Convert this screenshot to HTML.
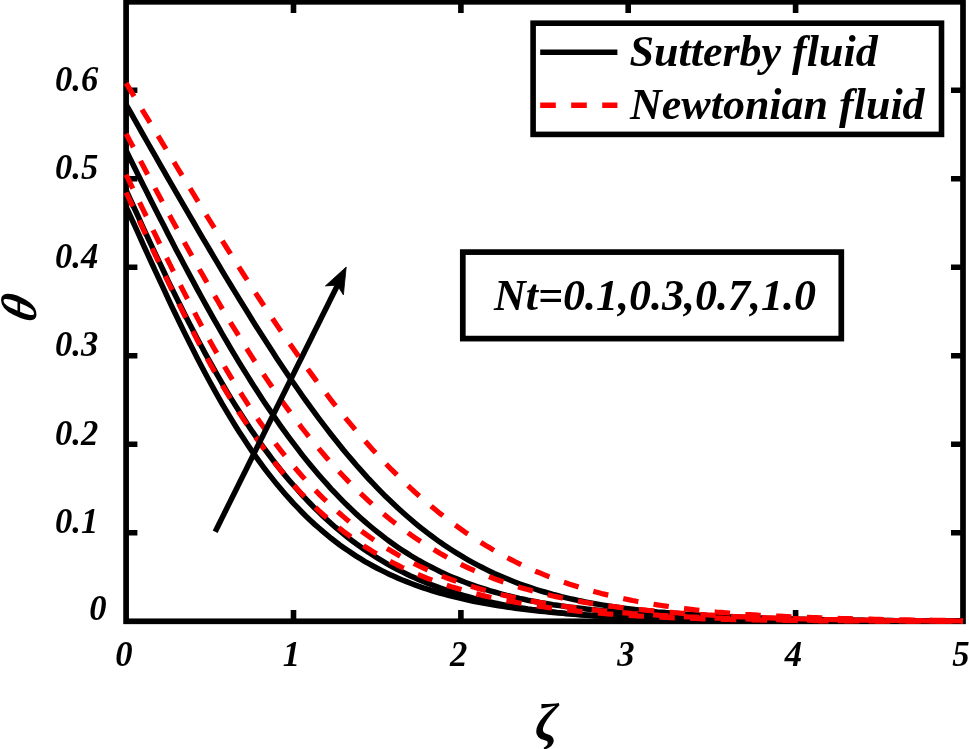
<!DOCTYPE html>
<html lang="en"><head><meta charset="utf-8"><title>Temperature profile for Nt</title>
<style>html,body{margin:0;padding:0;background:#fff}body{width:969px;height:749px;overflow:hidden}</style>
</head><body>
<svg width="969" height="749" viewBox="0 0 969 749" style="display:block">
<rect x="0" y="0" width="969" height="749" fill="#fff"/>
<rect x="126.1" y="1.8" width="836.9" height="619.5" fill="none" stroke="#000" stroke-width="5.7"/>
<path d="M293.5,621.3V610M293.5,1.8V13.1M460.9,621.3V610M460.9,1.8V13.1M628.2,621.3V610M628.2,1.8V13.1M795.6,621.3V610M795.6,1.8V13.1M126.1,532.8H137.4M963.0,532.8H951M126.1,444.3H137.4M963.0,444.3H951M126.1,355.8H137.4M963.0,355.8H951M126.1,267.3H137.4M963.0,267.3H951M126.1,178.8H137.4M963.0,178.8H951M126.1,90.3H137.4M963.0,90.3H951" stroke="#000" stroke-width="5.6" fill="none"/>
<g fill="none" stroke="#000" stroke-width="5.5">
<path d="M126.1,206.9 130.3,216.0 134.5,225.2 138.7,234.4 142.8,243.6 147.0,252.8 151.2,262.0 155.4,271.1 159.6,280.2 163.8,289.2 167.9,298.2 172.1,307.1 176.3,315.8 180.5,324.5 184.7,333.1 188.9,341.5 193.1,349.8 197.2,358.0 201.4,366.1 205.6,374.0 209.8,381.7 214.0,389.3 218.2,396.8 222.3,404.1 226.5,411.2 230.7,418.2 234.9,425.0 239.1,431.7 243.3,438.1 247.5,444.5 251.6,450.6 255.8,456.6 260.0,462.4 264.2,468.1 268.4,473.6 272.6,478.9 276.7,484.1 280.9,489.1 285.1,494.0 289.3,498.7 293.5,503.3 297.7,507.7 301.8,512.0 306.0,516.2 310.2,520.2 314.4,524.1 318.6,527.8 322.8,531.4 327.0,534.9 331.1,538.3 335.3,541.5 339.5,544.7 343.7,547.7 347.9,550.6 352.1,553.4 356.2,556.1 360.4,558.7 364.6,561.3 368.8,563.7 373.0,566.0 377.2,568.2 381.4,570.4 385.5,572.4 389.7,574.4 393.9,576.3 398.1,578.2 402.3,580.0 406.5,581.6 410.6,583.3 414.8,584.8 419.0,586.3 423.2,587.8 427.4,589.2 431.6,590.5 435.8,591.8 439.9,593.0 444.1,594.2 448.3,595.3 452.5,596.4 456.7,597.4 460.9,598.4 465.0,599.4 469.2,600.3 473.4,601.2 477.6,602.0 481.8,602.8 486.0,603.6 490.2,604.3 494.3,605.1 498.5,605.7 502.7,606.4 506.9,607.0 511.1,607.6 515.3,608.2 519.4,608.7 523.6,609.3 527.8,609.8 532.0,610.3 536.2,610.7 540.4,611.2 544.5,611.6 548.7,612.0 552.9,612.4 557.1,612.8 561.3,613.1 565.5,613.5 569.7,613.8 573.8,614.1 578.0,614.4 582.2,614.7 586.4,615.0 590.6,615.3 594.8,615.5 598.9,615.8 603.1,616.0 607.3,616.2 611.5,616.5 615.7,616.7 619.9,616.9 624.1,617.1 628.2,617.3 632.4,617.4 636.6,617.6 640.8,617.8 645.0,617.9 649.2,618.1 653.3,618.2 657.5,618.4 661.7,618.5 665.9,618.7 670.1,618.8 674.3,618.9 678.5,619.0 682.6,619.1 686.8,619.2 691.0,619.3 695.2,619.4 699.4,619.5 703.6,619.6 707.7,619.7 711.9,619.8 716.1,619.8 720.3,619.9 724.5,620.0 728.7,620.1 732.9,620.1 737.0,620.2 741.2,620.2 745.4,620.3 749.6,620.3 753.8,620.4 758.0,620.4 762.1,620.5 766.3,620.5 770.5,620.6 774.7,620.6 778.9,620.6 783.1,620.7 787.3,620.7 791.4,620.7 795.6,620.8 799.8,620.8 804.0,620.8 808.2,620.9 812.4,620.9 816.5,620.9 820.7,620.9 824.9,621.0 829.1,621.0 833.3,621.0 837.5,621.0 841.6,621.0 845.8,621.0 850.0,621.1 854.2,621.1 858.4,621.1 862.6,621.1 866.8,621.1 870.9,621.1 875.1,621.1 879.3,621.1 883.5,621.1 887.7,621.2 891.9,621.2 896.0,621.2 900.2,621.2 904.4,621.2 908.6,621.2 912.8,621.2 917.0,621.2 921.2,621.2 925.3,621.2 929.5,621.2 933.7,621.2 937.9,621.2 942.1,621.2 946.3,621.2 950.4,621.2 954.6,621.2 958.8,621.3 963.0,621.3"/>
<path d="M126.1,190.1 130.3,199.3 134.5,208.5 138.7,217.7 142.8,226.8 147.0,235.9 151.2,244.9 155.4,253.8 159.6,262.7 163.8,271.5 167.9,280.3 172.1,288.9 176.3,297.4 180.5,305.8 184.7,314.2 188.9,322.4 193.1,330.5 197.2,338.5 201.4,346.3 205.6,354.1 209.8,361.7 214.0,369.2 218.2,376.5 222.3,383.7 226.5,390.8 230.7,397.8 234.9,404.6 239.1,411.2 243.3,417.8 247.5,424.2 251.6,430.4 255.8,436.5 260.0,442.5 264.2,448.3 268.4,454.0 272.6,459.6 276.7,465.0 280.9,470.3 285.1,475.4 289.3,480.4 293.5,485.3 297.7,490.0 301.8,494.7 306.0,499.2 310.2,503.5 314.4,507.8 318.6,511.9 322.8,515.9 327.0,519.8 331.1,523.5 335.3,527.2 339.5,530.7 343.7,534.2 347.9,537.5 352.1,540.7 356.2,543.8 360.4,546.8 364.6,549.7 368.8,552.5 373.0,555.3 377.2,557.9 381.4,560.4 385.5,562.9 389.7,565.3 393.9,567.6 398.1,569.8 402.3,571.9 406.5,573.9 410.6,575.9 414.8,577.8 419.0,579.7 423.2,581.4 427.4,583.1 431.6,584.8 435.8,586.4 439.9,587.9 444.1,589.3 448.3,590.7 452.5,592.1 456.7,593.4 460.9,594.6 465.0,595.8 469.2,597.0 473.4,598.1 477.6,599.1 481.8,600.1 486.0,601.1 490.2,602.0 494.3,602.9 498.5,603.8 502.7,604.6 506.9,605.4 511.1,606.2 515.3,606.9 519.4,607.6 523.6,608.2 527.8,608.9 532.0,609.5 536.2,610.0 540.4,610.6 544.5,611.1 548.7,611.6 552.9,612.1 557.1,612.6 561.3,613.0 565.5,613.4 569.7,613.8 573.8,614.2 578.0,614.6 582.2,614.9 586.4,615.2 590.6,615.6 594.8,615.9 598.9,616.1 603.1,616.4 607.3,616.7 611.5,616.9 615.7,617.2 619.9,617.4 624.1,617.6 628.2,617.8 632.4,618.0 636.6,618.2 640.8,618.3 645.0,618.5 649.2,618.7 653.3,618.8 657.5,618.9 661.7,619.1 665.9,619.2 670.1,619.3 674.3,619.4 678.5,619.5 682.6,619.6 686.8,619.7 691.0,619.8 695.2,619.9 699.4,620.0 703.6,620.1 707.7,620.1 711.9,620.2 716.1,620.3 720.3,620.3 724.5,620.4 728.7,620.5 732.9,620.5 737.0,620.6 741.2,620.6 745.4,620.6 749.6,620.7 753.8,620.7 758.0,620.8 762.1,620.8 766.3,620.8 770.5,620.9 774.7,620.9 778.9,620.9 783.1,620.9 787.3,621.0 791.4,621.0 795.6,621.0 799.8,621.0 804.0,621.0 808.2,621.1 812.4,621.1 816.5,621.1 820.7,621.1 824.9,621.1 829.1,621.1 833.3,621.1 837.5,621.1 841.6,621.2 845.8,621.2 850.0,621.2 854.2,621.2 858.4,621.2 862.6,621.2 866.8,621.2 870.9,621.2 875.1,621.2 879.3,621.2 883.5,621.2 887.7,621.2 891.9,621.2 896.0,621.2 900.2,621.2 904.4,621.3 908.6,621.3 912.8,621.3 917.0,621.3 921.2,621.3 925.3,621.3 929.5,621.3 933.7,621.3 937.9,621.3 942.1,621.3 946.3,621.3 950.4,621.3 954.6,621.3 958.8,621.3 963.0,621.3"/>
<path d="M126.1,150.5 130.3,159.0 134.5,167.5 138.7,175.9 142.8,184.3 147.0,192.6 151.2,201.0 155.4,209.2 159.6,217.4 163.8,225.6 167.9,233.8 172.1,241.8 176.3,249.9 180.5,257.8 184.7,265.7 188.9,273.6 193.1,281.4 197.2,289.1 201.4,296.8 205.6,304.4 209.8,311.9 214.0,319.3 218.2,326.7 222.3,334.0 226.5,341.2 230.7,348.3 234.9,355.3 239.1,362.3 243.3,369.1 247.5,375.9 251.6,382.5 255.8,389.1 260.0,395.5 264.2,401.9 268.4,408.1 272.6,414.3 276.7,420.3 280.9,426.3 285.1,432.1 289.3,437.8 293.5,443.4 297.7,448.9 301.8,454.3 306.0,459.6 310.2,464.7 314.4,469.7 318.6,474.7 322.8,479.5 327.0,484.2 331.1,488.8 335.3,493.2 339.5,497.6 343.7,501.9 347.9,506.0 352.1,510.0 356.2,513.9 360.4,517.7 364.6,521.4 368.8,525.0 373.0,528.5 377.2,531.9 381.4,535.2 385.5,538.4 389.7,541.5 393.9,544.5 398.1,547.4 402.3,550.2 406.5,552.9 410.6,555.5 414.8,558.0 419.0,560.5 423.2,562.8 427.4,565.1 431.6,567.3 435.8,569.4 439.9,571.5 444.1,573.5 448.3,575.4 452.5,577.2 456.7,578.9 460.9,580.6 465.0,582.3 469.2,583.8 473.4,585.3 477.6,586.8 481.8,588.2 486.0,589.5 490.2,590.8 494.3,592.0 498.5,593.2 502.7,594.3 506.9,595.4 511.1,596.4 515.3,597.4 519.4,598.4 523.6,599.3 527.8,600.2 532.0,601.0 536.2,601.8 540.4,602.6 544.5,603.3 548.7,604.0 552.9,604.7 557.1,605.3 561.3,605.9 565.5,606.5 569.7,607.1 573.8,607.6 578.0,608.1 582.2,608.6 586.4,609.1 590.6,609.5 594.8,609.9 598.9,610.3 603.1,610.7 607.3,611.1 611.5,611.4 615.7,611.8 619.9,612.1 624.1,612.5 628.2,612.8 632.4,613.1 636.6,613.4 640.8,613.7 645.0,614.0 649.2,614.3 653.3,614.6 657.5,614.8 661.7,615.1 665.9,615.3 670.1,615.6 674.3,615.8 678.5,616.0 682.6,616.2 686.8,616.4 691.0,616.6 695.2,616.8 699.4,617.0 703.6,617.2 707.7,617.4 711.9,617.5 716.1,617.7 720.3,617.8 724.5,618.0 728.7,618.1 732.9,618.3 737.0,618.4 741.2,618.5 745.4,618.6 749.6,618.8 753.8,618.9 758.0,619.0 762.1,619.1 766.3,619.2 770.5,619.3 774.7,619.4 778.9,619.5 783.1,619.6 787.3,619.6 791.4,619.7 795.6,619.8 799.8,619.9 804.0,619.9 808.2,620.0 812.4,620.1 816.5,620.1 820.7,620.2 824.9,620.2 829.1,620.3 833.3,620.3 837.5,620.4 841.6,620.4 845.8,620.5 850.0,620.5 854.2,620.6 858.4,620.6 862.6,620.6 866.8,620.7 870.9,620.7 875.1,620.7 879.3,620.8 883.5,620.8 887.7,620.8 891.9,620.8 896.0,620.9 900.2,620.9 904.4,620.9 908.6,620.9 912.8,621.0 917.0,621.0 921.2,621.0 925.3,621.0 929.5,621.0 933.7,621.0 937.9,621.1 942.1,621.1 946.3,621.1 950.4,621.1 954.6,621.1 958.8,621.1 963.0,621.1"/>
<path d="M126.1,104.5 130.3,111.9 134.5,119.4 138.7,126.8 142.8,134.2 147.0,141.5 151.2,148.9 155.4,156.2 159.6,163.6 163.8,170.9 167.9,178.2 172.1,185.4 176.3,192.7 180.5,199.9 184.7,207.2 188.9,214.4 193.1,221.5 197.2,228.7 201.4,235.8 205.6,242.9 209.8,250.0 214.0,257.1 218.2,264.1 222.3,271.1 226.5,278.1 230.7,285.0 234.9,291.9 239.1,298.7 243.3,305.5 247.5,312.3 251.6,319.0 255.8,325.7 260.0,332.3 264.2,338.8 268.4,345.3 272.6,351.8 276.7,358.2 280.9,364.5 285.1,370.7 289.3,376.9 293.5,383.0 297.7,389.0 301.8,395.0 306.0,400.9 310.2,406.7 314.4,412.4 318.6,418.1 322.8,423.6 327.0,429.1 331.1,434.5 335.3,439.8 339.5,445.0 343.7,450.2 347.9,455.2 352.1,460.1 356.2,465.0 360.4,469.7 364.6,474.4 368.8,479.0 373.0,483.4 377.2,487.8 381.4,492.1 385.5,496.3 389.7,500.3 393.9,504.3 398.1,508.2 402.3,512.0 406.5,515.7 410.6,519.3 414.8,522.9 419.0,526.3 423.2,529.6 427.4,532.9 431.6,536.0 435.8,539.1 439.9,542.1 444.1,545.0 448.3,547.8 452.5,550.5 456.7,553.1 460.9,555.7 465.0,558.2 469.2,560.6 473.4,562.9 477.6,565.1 481.8,567.3 486.0,569.4 490.2,571.4 494.3,573.4 498.5,575.3 502.7,577.1 506.9,578.8 511.1,580.5 515.3,582.2 519.4,583.8 523.6,585.3 527.8,586.7 532.0,588.1 536.2,589.5 540.4,590.8 544.5,592.0 548.7,593.2 552.9,594.4 557.1,595.5 561.3,596.6 565.5,597.6 569.7,598.6 573.8,599.5 578.0,600.4 582.2,601.3 586.4,602.1 590.6,602.9 594.8,603.7 598.9,604.4 603.1,605.1 607.3,605.8 611.5,606.4 615.7,607.0 619.9,607.6 624.1,608.2 628.2,608.7 632.4,609.2 636.6,609.7 640.8,610.2 645.0,610.6 649.2,611.1 653.3,611.5 657.5,611.9 661.7,612.2 665.9,612.6 670.1,612.9 674.3,613.3 678.5,613.6 682.6,613.9 686.8,614.2 691.0,614.5 695.2,614.8 699.4,615.1 703.6,615.3 707.7,615.6 711.9,615.8 716.1,616.1 720.3,616.3 724.5,616.5 728.7,616.7 732.9,616.9 737.0,617.1 741.2,617.3 745.4,617.5 749.6,617.6 753.8,617.8 758.0,618.0 762.1,618.1 766.3,618.3 770.5,618.4 774.7,618.5 778.9,618.7 783.1,618.8 787.3,618.9 791.4,619.0 795.6,619.1 799.8,619.2 804.0,619.3 808.2,619.4 812.4,619.5 816.5,619.6 820.7,619.7 824.9,619.8 829.1,619.8 833.3,619.9 837.5,620.0 841.6,620.1 845.8,620.1 850.0,620.2 854.2,620.2 858.4,620.3 862.6,620.3 866.8,620.4 870.9,620.4 875.1,620.5 879.3,620.5 883.5,620.6 887.7,620.6 891.9,620.6 896.0,620.7 900.2,620.7 904.4,620.7 908.6,620.8 912.8,620.8 917.0,620.8 921.2,620.9 925.3,620.9 929.5,620.9 933.7,620.9 937.9,621.0 942.1,621.0 946.3,621.0 950.4,621.0 954.6,621.0 958.8,621.0 963.0,621.1"/>
</g>
<g fill="none" stroke="#f00" stroke-width="5.2" stroke-dasharray="15.4 15.4">
<path d="M126.1,192.5 130.3,201.4 134.5,210.4 138.7,219.3 142.8,228.3 147.0,237.3 151.2,246.2 155.4,255.1 159.6,264.0 163.8,272.8 167.9,281.5 172.1,290.1 176.3,298.7 180.5,307.2 184.7,315.5 188.9,323.8 193.1,331.9 197.2,339.9 201.4,347.8 205.6,355.6 209.8,363.2 214.0,370.7 218.2,378.0 222.3,385.2 226.5,392.2 230.7,399.1 234.9,405.9 239.1,412.5 243.3,418.9 247.5,425.2 251.6,431.4 255.8,437.4 260.0,443.3 264.2,449.0 268.4,454.5 272.6,459.9 276.7,465.2 280.9,470.3 285.1,475.3 289.3,480.2 293.5,484.9 297.7,489.4 301.8,493.9 306.0,498.2 310.2,502.4 314.4,506.4 318.6,510.4 322.8,514.2 327.0,517.9 331.1,521.5 335.3,524.9 339.5,528.3 343.7,531.6 347.9,534.7 352.1,537.8 356.2,540.7 360.4,543.6 364.6,546.4 368.8,549.0 373.0,551.6 377.2,554.1 381.4,556.5 385.5,558.9 389.7,561.1 393.9,563.3 398.1,565.4 402.3,567.5 406.5,569.4 410.6,571.3 414.8,573.2 419.0,574.9 423.2,576.6 427.4,578.3 431.6,579.9 435.8,581.4 439.9,582.9 444.1,584.3 448.3,585.7 452.5,587.1 456.7,588.3 460.9,589.6 465.0,590.8 469.2,591.9 473.4,593.1 477.6,594.1 481.8,595.2 486.0,596.2 490.2,597.2 494.3,598.1 498.5,599.0 502.7,599.8 506.9,600.7 511.1,601.5 515.3,602.3 519.4,603.0 523.6,603.7 527.8,604.4 532.0,605.1 536.2,605.8 540.4,606.4 544.5,607.0 548.7,607.6 552.9,608.1 557.1,608.7 561.3,609.2 565.5,609.7 569.7,610.2 573.8,610.6 578.0,611.1 582.2,611.5 586.4,611.9 590.6,612.3 594.8,612.7 598.9,613.1 603.1,613.4 607.3,613.8 611.5,614.1 615.7,614.4 619.9,614.7 624.1,615.0 628.2,615.3 632.4,615.6 636.6,615.8 640.8,616.1 645.0,616.3 649.2,616.6 653.3,616.8 657.5,617.0 661.7,617.2 665.9,617.4 670.1,617.6 674.3,617.8 678.5,617.9 682.6,618.1 686.8,618.3 691.0,618.4 695.2,618.5 699.4,618.7 703.6,618.8 707.7,618.9 711.9,619.1 716.1,619.2 720.3,619.3 724.5,619.4 728.7,619.5 732.9,619.6 737.0,619.7 741.2,619.7 745.4,619.8 749.6,619.9 753.8,620.0 758.0,620.0 762.1,620.1 766.3,620.2 770.5,620.2 774.7,620.3 778.9,620.4 783.1,620.4 787.3,620.5 791.4,620.5 795.6,620.5 799.8,620.6 804.0,620.6 808.2,620.7 812.4,620.7 816.5,620.7 820.7,620.8 824.9,620.8 829.1,620.8 833.3,620.9 837.5,620.9 841.6,620.9 845.8,620.9 850.0,620.9 854.2,621.0 858.4,621.0 862.6,621.0 866.8,621.0 870.9,621.0 875.1,621.1 879.3,621.1 883.5,621.1 887.7,621.1 891.9,621.1 896.0,621.1 900.2,621.1 904.4,621.1 908.6,621.2 912.8,621.2 917.0,621.2 921.2,621.2 925.3,621.2 929.5,621.2 933.7,621.2 937.9,621.2 942.1,621.2 946.3,621.2 950.4,621.2 954.6,621.2 958.8,621.2 963.0,621.2"/>
<path d="M126.1,174.7 130.3,183.3 134.5,191.9 138.7,200.5 142.8,209.1 147.0,217.7 151.2,226.4 155.4,234.9 159.6,243.5 163.8,252.0 167.9,260.4 172.1,268.8 176.3,277.2 180.5,285.4 184.7,293.6 188.9,301.7 193.1,309.7 197.2,317.6 201.4,325.4 205.6,333.1 209.8,340.7 214.0,348.2 218.2,355.5 222.3,362.8 226.5,369.9 230.7,376.9 234.9,383.8 239.1,390.5 243.3,397.1 247.5,403.6 251.6,409.9 255.8,416.1 260.0,422.2 264.2,428.1 268.4,434.0 272.6,439.6 276.7,445.2 280.9,450.6 285.1,455.9 289.3,461.0 293.5,466.1 297.7,471.0 301.8,475.7 306.0,480.4 310.2,484.9 314.4,489.3 318.6,493.6 322.8,497.8 327.0,501.8 331.1,505.8 335.3,509.6 339.5,513.3 343.7,516.9 347.9,520.4 352.1,523.8 356.2,527.1 360.4,530.3 364.6,533.4 368.8,536.4 373.0,539.4 377.2,542.2 381.4,544.9 385.5,547.6 389.7,550.1 393.9,552.6 398.1,555.0 402.3,557.4 406.5,559.6 410.6,561.8 414.8,563.9 419.0,566.0 423.2,567.9 427.4,569.8 431.6,571.7 435.8,573.5 439.9,575.2 444.1,576.9 448.3,578.5 452.5,580.0 456.7,581.5 460.9,583.0 465.0,584.4 469.2,585.7 473.4,587.0 477.6,588.3 481.8,589.5 486.0,590.7 490.2,591.8 494.3,592.9 498.5,593.9 502.7,595.0 506.9,595.9 511.1,596.9 515.3,597.8 519.4,598.7 523.6,599.5 527.8,600.3 532.0,601.1 536.2,601.9 540.4,602.6 544.5,603.3 548.7,604.0 552.9,604.7 557.1,605.3 561.3,605.9 565.5,606.5 569.7,607.1 573.8,607.6 578.0,608.1 582.2,608.6 586.4,609.1 590.6,609.6 594.8,610.0 598.9,610.5 603.1,610.9 607.3,611.3 611.5,611.7 615.7,612.1 619.9,612.4 624.1,612.8 628.2,613.1 632.4,613.5 636.6,613.8 640.8,614.1 645.0,614.4 649.2,614.7 653.3,615.0 657.5,615.2 661.7,615.5 665.9,615.7 670.1,616.0 674.3,616.2 678.5,616.4 682.6,616.6 686.8,616.9 691.0,617.0 695.2,617.2 699.4,617.4 703.6,617.6 707.7,617.8 711.9,617.9 716.1,618.1 720.3,618.2 724.5,618.4 728.7,618.5 732.9,618.6 737.0,618.8 741.2,618.9 745.4,619.0 749.6,619.1 753.8,619.2 758.0,619.3 762.1,619.4 766.3,619.5 770.5,619.6 774.7,619.7 778.9,619.8 783.1,619.8 787.3,619.9 791.4,620.0 795.6,620.0 799.8,620.1 804.0,620.2 808.2,620.2 812.4,620.3 816.5,620.3 820.7,620.4 824.9,620.4 829.1,620.5 833.3,620.5 837.5,620.6 841.6,620.6 845.8,620.6 850.0,620.7 854.2,620.7 858.4,620.7 862.6,620.8 866.8,620.8 870.9,620.8 875.1,620.9 879.3,620.9 883.5,620.9 887.7,620.9 891.9,621.0 896.0,621.0 900.2,621.0 904.4,621.0 908.6,621.0 912.8,621.0 917.0,621.1 921.2,621.1 925.3,621.1 929.5,621.1 933.7,621.1 937.9,621.1 942.1,621.1 946.3,621.1 950.4,621.2 954.6,621.2 958.8,621.2 963.0,621.2"/>
<path d="M126.1,133.7 130.3,141.6 134.5,149.5 138.7,157.4 142.8,165.3 147.0,173.2 151.2,181.0 155.4,188.9 159.6,196.7 163.8,204.5 167.9,212.2 172.1,219.9 176.3,227.6 180.5,235.3 184.7,242.9 188.9,250.4 193.1,257.9 197.2,265.4 201.4,272.8 205.6,280.1 209.8,287.4 214.0,294.6 218.2,301.8 222.3,308.9 226.5,315.9 230.7,322.8 234.9,329.7 239.1,336.4 243.3,343.1 247.5,349.8 251.6,356.3 255.8,362.8 260.0,369.1 264.2,375.4 268.4,381.6 272.6,387.7 276.7,393.7 280.9,399.6 285.1,405.4 289.3,411.1 293.5,416.7 297.7,422.3 301.8,427.7 306.0,433.0 310.2,438.3 314.4,443.4 318.6,448.4 322.8,453.3 327.0,458.2 331.1,462.9 335.3,467.5 339.5,472.1 343.7,476.5 347.9,480.9 352.1,485.1 356.2,489.2 360.4,493.3 364.6,497.2 368.8,501.1 373.0,504.9 377.2,508.5 381.4,512.1 385.5,515.6 389.7,519.0 393.9,522.3 398.1,525.6 402.3,528.7 406.5,531.7 410.6,534.7 414.8,537.6 419.0,540.4 423.2,543.1 427.4,545.8 431.6,548.3 435.8,550.8 439.9,553.3 444.1,555.6 448.3,557.9 452.5,560.1 456.7,562.2 460.9,564.3 465.0,566.3 469.2,568.3 473.4,570.2 477.6,572.0 481.8,573.7 486.0,575.4 490.2,577.1 494.3,578.7 498.5,580.2 502.7,581.7 506.9,583.2 511.1,584.5 515.3,585.9 519.4,587.2 523.6,588.4 527.8,589.6 532.0,590.8 536.2,591.9 540.4,593.0 544.5,594.0 548.7,595.0 552.9,596.0 557.1,596.9 561.3,597.8 565.5,598.7 569.7,599.5 573.8,600.3 578.0,601.1 582.2,601.9 586.4,602.6 590.6,603.3 594.8,603.9 598.9,604.6 603.1,605.2 607.3,605.8 611.5,606.3 615.7,606.9 619.9,607.4 624.1,607.9 628.2,608.4 632.4,608.8 636.6,609.3 640.8,609.7 645.0,610.1 649.2,610.5 653.3,610.9 657.5,611.3 661.7,611.6 665.9,612.0 670.1,612.3 674.3,612.7 678.5,613.0 682.6,613.3 686.8,613.6 691.0,613.9 695.2,614.2 699.4,614.5 703.6,614.7 707.7,615.0 711.9,615.2 716.1,615.5 720.3,615.7 724.5,615.9 728.7,616.1 732.9,616.4 737.0,616.6 741.2,616.8 745.4,616.9 749.6,617.1 753.8,617.3 758.0,617.5 762.1,617.6 766.3,617.8 770.5,617.9 774.7,618.1 778.9,618.2 783.1,618.4 787.3,618.5 791.4,618.6 795.6,618.7 799.8,618.9 804.0,619.0 808.2,619.1 812.4,619.2 816.5,619.3 820.7,619.4 824.9,619.5 829.1,619.5 833.3,619.6 837.5,619.7 841.6,619.8 845.8,619.9 850.0,619.9 854.2,620.0 858.4,620.1 862.6,620.1 866.8,620.2 870.9,620.2 875.1,620.3 879.3,620.3 883.5,620.4 887.7,620.4 891.9,620.5 896.0,620.5 900.2,620.6 904.4,620.6 908.6,620.6 912.8,620.7 917.0,620.7 921.2,620.7 925.3,620.8 929.5,620.8 933.7,620.8 937.9,620.8 942.1,620.9 946.3,620.9 950.4,620.9 954.6,620.9 958.8,621.0 963.0,621.0"/>
<path d="M126.1,83.2 130.3,90.1 134.5,97.0 138.7,103.9 142.8,110.8 147.0,117.7 151.2,124.6 155.4,131.5 159.6,138.4 163.8,145.3 167.9,152.2 172.1,159.1 176.3,166.0 180.5,172.8 184.7,179.7 188.9,186.6 193.1,193.4 197.2,200.2 201.4,207.1 205.6,213.9 209.8,220.6 214.0,227.4 218.2,234.1 222.3,240.9 226.5,247.5 230.7,254.2 234.9,260.8 239.1,267.4 243.3,274.0 247.5,280.5 251.6,286.9 255.8,293.4 260.0,299.8 264.2,306.1 268.4,312.4 272.6,318.7 276.7,324.9 280.9,331.0 285.1,337.1 289.3,343.1 293.5,349.1 297.7,355.0 301.8,360.9 306.0,366.7 310.2,372.4 314.4,378.1 318.6,383.7 322.8,389.2 327.0,394.7 331.1,400.1 335.3,405.4 339.5,410.6 343.7,415.8 347.9,420.9 352.1,425.9 356.2,430.9 360.4,435.8 364.6,440.6 368.8,445.3 373.0,449.9 377.2,454.5 381.4,459.0 385.5,463.4 389.7,467.7 393.9,471.9 398.1,476.1 402.3,480.2 406.5,484.2 410.6,488.1 414.8,492.0 419.0,495.7 423.2,499.4 427.4,503.0 431.6,506.6 435.8,510.0 439.9,513.4 444.1,516.7 448.3,519.9 452.5,523.1 456.7,526.1 460.9,529.1 465.0,532.1 469.2,534.9 473.4,537.7 477.6,540.4 481.8,543.0 486.0,545.6 490.2,548.1 494.3,550.6 498.5,552.9 502.7,555.2 506.9,557.5 511.1,559.6 515.3,561.8 519.4,563.8 523.6,565.8 527.8,567.8 532.0,569.6 536.2,571.5 540.4,573.2 544.5,574.9 548.7,576.6 552.9,578.2 557.1,579.8 561.3,581.3 565.5,582.7 569.7,584.2 573.8,585.5 578.0,586.8 582.2,588.1 586.4,589.4 590.6,590.6 594.8,591.7 598.9,592.8 603.1,593.9 607.3,594.9 611.5,595.9 615.7,596.9 619.9,597.9 624.1,598.8 628.2,599.6 632.4,600.5 636.6,601.3 640.8,602.0 645.0,602.8 649.2,603.5 653.3,604.2 657.5,604.9 661.7,605.5 665.9,606.1 670.1,606.7 674.3,607.3 678.5,607.9 682.6,608.4 686.8,608.9 691.0,609.4 695.2,609.9 699.4,610.3 703.6,610.8 707.7,611.2 711.9,611.6 716.1,612.0 720.3,612.3 724.5,612.7 728.7,613.0 732.9,613.4 737.0,613.7 741.2,614.0 745.4,614.3 749.6,614.5 753.8,614.8 758.0,615.1 762.1,615.3 766.3,615.5 770.5,615.8 774.7,616.0 778.9,616.2 783.1,616.4 787.3,616.6 791.4,616.8 795.6,616.9 799.8,617.1 804.0,617.3 808.2,617.4 812.4,617.6 816.5,617.7 820.7,617.9 824.9,618.0 829.1,618.1 833.3,618.3 837.5,618.4 841.6,618.5 845.8,618.6 850.0,618.7 854.2,618.9 858.4,619.0 862.6,619.1 866.8,619.2 870.9,619.2 875.1,619.3 879.3,619.4 883.5,619.5 887.7,619.6 891.9,619.7 896.0,619.7 900.2,619.8 904.4,619.9 908.6,619.9 912.8,620.0 917.0,620.1 921.2,620.1 925.3,620.2 929.5,620.2 933.7,620.3 937.9,620.3 942.1,620.4 946.3,620.4 950.4,620.5 954.6,620.5 958.8,620.5 963.0,620.6"/>
</g>
<rect x="533.1" y="23.2" width="408.4" height="111.2" fill="#fff" stroke="#000" stroke-width="5.6"/>
<path d="M540.2,52.3H617.4" stroke="#000" stroke-width="5.6"/>
<path d="M540.2,105.2H617.4" stroke="#f00" stroke-width="5.6" stroke-dasharray="15.6 15.4"/>
<rect x="462.8" y="252.1" width="378.5" height="86.5" fill="#fff" stroke="#000" stroke-width="5.7"/>
<path d="M215.2,531.7L338,284.2" stroke="#000" stroke-width="5.5" fill="none"/>
<path d="M346.2,267L325.4,285.9L337.3,285.2L343.4,294.9Z" fill="#000" stroke="#000" stroke-width="0.8" stroke-linejoin="miter"/>
<g font-family="'Liberation Serif','Times New Roman',serif" font-weight="bold" font-style="italic" fill="#000">
<text x="629.5" y="66" font-size="44">Sutterby fluid</text>
<text x="630" y="118.8" font-size="44">Newtonian fluid</text>
<text x="494" y="309.5" font-size="44">Nt=0.1,0.3,0.7,1.0</text>
<text transform="translate(123.9,666.2) scale(0.95,1)" font-size="36.5" text-anchor="middle">0</text>
<text transform="translate(291.3,666.2) scale(0.95,1)" font-size="36.5" text-anchor="middle">1</text>
<text transform="translate(458.7,666.2) scale(0.95,1)" font-size="36.5" text-anchor="middle">2</text>
<text transform="translate(626.0,666.2) scale(0.95,1)" font-size="36.5" text-anchor="middle">3</text>
<text transform="translate(793.4,666.2) scale(0.95,1)" font-size="36.5" text-anchor="middle">4</text>
<text transform="translate(960.8,666.2) scale(0.95,1)" font-size="36.5" text-anchor="middle">5</text>
<text transform="translate(98.3,533.1) scale(0.94,1)" font-size="36.8" text-anchor="end">0.1</text>
<text transform="translate(98.3,444.6) scale(0.94,1)" font-size="36.8" text-anchor="end">0.2</text>
<text transform="translate(98.3,356.1) scale(0.94,1)" font-size="36.8" text-anchor="end">0.3</text>
<text transform="translate(98.3,267.6) scale(0.94,1)" font-size="36.8" text-anchor="end">0.4</text>
<text transform="translate(98.3,179.1) scale(0.94,1)" font-size="36.8" text-anchor="end">0.5</text>
<text transform="translate(98.3,90.6) scale(0.94,1)" font-size="36.8" text-anchor="end">0.6</text>
<text transform="translate(106.6,620.2) scale(0.95,1)" font-size="36.5" text-anchor="end">0</text>
<text transform="translate(36,324) rotate(-90) skewX(-14) scale(0.95,1)" font-size="50">θ</text>
<text x="535" y="740" font-size="52">ζ</text>
</g>
</svg>
</body></html>
